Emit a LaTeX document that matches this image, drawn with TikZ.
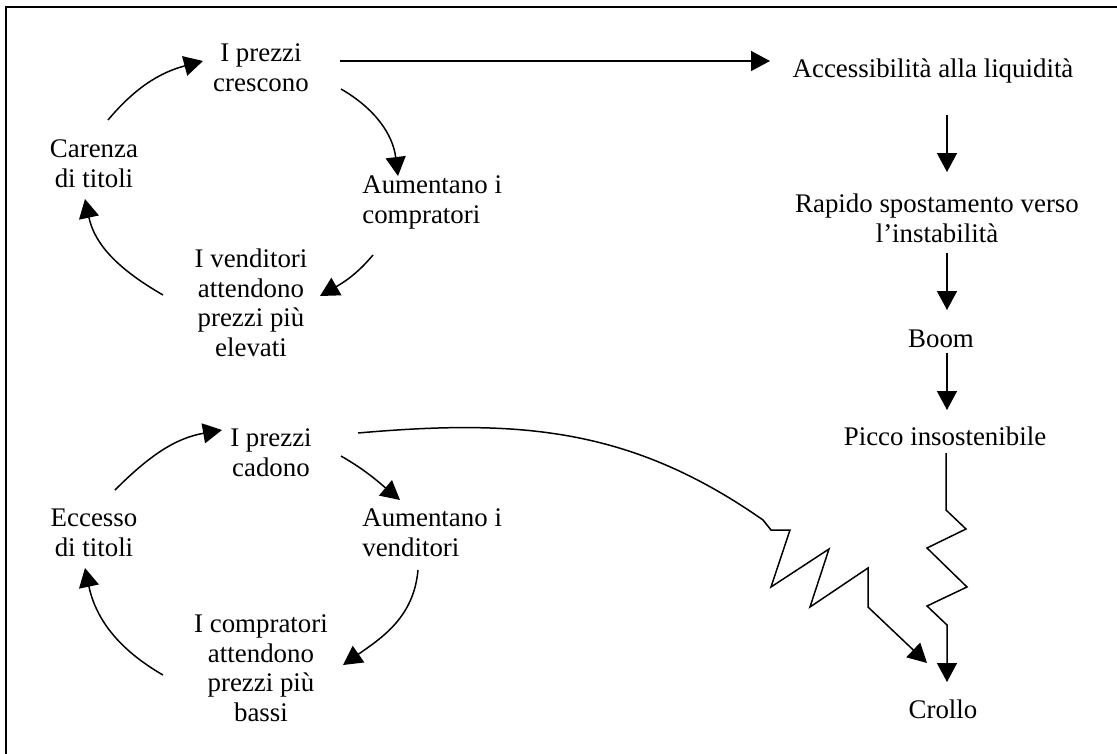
\documentclass[tikz,border=0pt]{standalone}
\usepackage{fontspec}
\setmainfont{Liberation Serif}
\usetikzlibrary{arrows.meta,calc}
\tikzstyle{etichetta} = [inner sep=0pt, align=center, anchor=base, font=\fontsize{15.3}{16.8}\selectfont]
\tikzstyle{freccia} = [-{Triangle[length=0.38cm,width=0.4cm]}, line width=0.85pt]

\begin{document}
\begin{tikzpicture}[x=0.02cm, y=-0.02cm]
    \useasboundingbox (0,0) rectangle (1117,754);
    \draw[line width=1.15pt] (6,7) rectangle (1130,770);

    % ciclo al rialzo
    \node[etichetta] (rise) at (261,91) {I prezzi\\crescono};
    \node[etichetta] (carenza) at (94,187) {Carenza\\di titoli};
    \node[etichetta, align=left, anchor=base west] (aumcomp) at (362,223) {Aumentano i\\compratori};
    \node[etichetta] (vendatt) at (251,356.5) {I venditori\\attendono\\prezzi più\\elevati};

    % ciclo al ribasso
    \node[etichetta] (fall) at (271,476) {I prezzi\\cadono};
    \node[etichetta] (eccesso) at (94,556) {Eccesso\\di titoli};
    \node[etichetta, align=left, anchor=base west] (aumvend) at (362,556) {Aumentano i\\venditori};
    \node[etichetta] (compatt) at (261,721.5) {I compratori\\attendono\\prezzi più\\bassi};

    % colonna di destra
    \node[etichetta] (access) at (933,77) {Accessibilità alla liquidità};
    \node[etichetta] (rapido) at (937,242) {Rapido spostamento verso\\l’instabilità};
    \node[etichetta] (boom) at (941,347) {Boom};
    \node[etichetta] (picco) at (945,445) {Picco insostenibile};
    \node[etichetta] (crollo) at (943,718) {Crollo};

    \draw[freccia] ($(carenza.base)+(14,-67)$) to[out=50,in=195] ($(rise.base)+(-58,-30)$);
    \draw[freccia] ($(rise.base)+(80,-2)$) to[out=-30,in=97] ($(aumcomp.base west)+(36,-47)$);
    \draw[freccia] ($(aumcomp.base west)+(11,32)$) to[out=-130,in=30] ($(vendatt.base)+(69,-60.5)$);
    \draw[freccia] ($(vendatt.base)+(-88,-61.5)$) to[out=150,in=-78] ($(carenza.base)+(-9,12)$);

    \draw[freccia] ($(eccesso.base)+(21,-66)$) to[out=45,in=190] ($(fall.base)+(-49,-46)$);
    \draw[freccia] ($(fall.base)+(70,-20)$) to[out=-30,in=140] ($(aumvend.base west)+(38,-56)$);
    \draw[freccia] ($(aumvend.base west)+(56,14)$) to[out=-95,in=35] ($(compatt.base)+(82,-56.5)$);
    \draw[freccia] ($(compatt.base)+(-98,-46.5)$) to[out=150,in=-78] ($(eccesso.base)+(-9,12)$);

    \draw[freccia] ($(rise.base)+(79,-30)$) -- ($(access.base)+(-163,-16)$);
    \draw[freccia] ($(access.base)+(14,38)$) -- ($(rapido.base)+(10,-70)$);
    \draw[freccia] ($(rapido.base)+(10,11)$) -- ($(boom.base)+(6,-37)$);
    \draw[freccia] ($(boom.base)+(6,6)$) -- ($(picco.base)+(2,-35)$);

    % crolli a zig-zag
    \draw[freccia] ($(picco.base)+(1,8)$) -- ++(0,57) -- ++(20,19) -- ++(-39,19) -- ++(40,39)
        -- ++(-40,19) -- ++(20,19) -- ($(crollo.base)+(4,-36)$);
    \draw[freccia] ($(fall.base)+(87,-43)$) to[out=5,in=145] ++(405,87) -- ++(8,10) -- ++(19,0)
        -- ++(-19,57) -- ++(58,-38) -- ++(-19,58) -- ++(58,-39) -- ++(0,39) -- ($(crollo.base)+(-16,-55)$);
\end{tikzpicture}
\end{document}
